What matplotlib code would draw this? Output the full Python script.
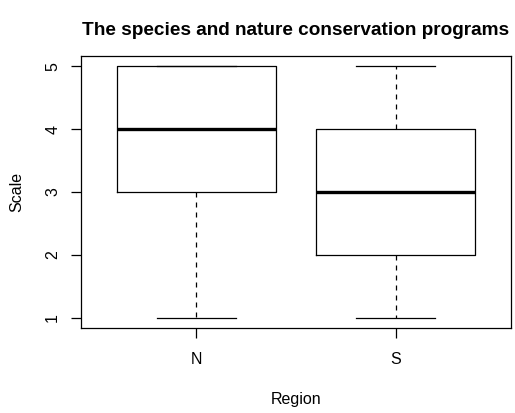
import matplotlib.pyplot as plt

plt.rcParams['font.family'] = ['Liberation Sans', 'DejaVu Sans']

regions = ['N', 'S']
whislo = [1, 1]
q1 = [3, 2]
med = [4, 3]
q3 = [5, 4]
whishi = [5, 5]

stats = []
for i in range(len(regions)):
    stats.append({'label': regions[i], 'whislo': whislo[i], 'q1': q1[i],
                  'med': med[i], 'q3': q3[i], 'whishi': whishi[i], 'fliers': []})

fig = plt.figure(figsize=(5.15, 4.13), dpi=100)
ax = fig.add_axes([81/515, 1 - 328/413, 430/515, 272/413])

lw = 0.9
ax.bxp(stats, positions=[1, 2], widths=0.8, showfliers=False,
       boxprops=dict(color='black', linewidth=lw),
       whiskerprops=dict(color='black', linewidth=lw, linestyle=(0, (4, 4))),
       capprops=dict(color='black', linewidth=lw),
       medianprops=dict(color='black', linewidth=2.4, solid_capstyle='butt'),
       capwidths=0.4)

ax.set_xlim(0.42, 2.58)
ax.set_ylim(0.84, 5.16)
ax.set_yticks([1, 2, 3, 4, 5])
ax.set_yticklabels(['1', '2', '3', '4', '5'], rotation=90, va='center')
ax.set_xticks([1, 2])
ax.set_xticklabels(regions)
ax.tick_params(axis='both', length=7, width=lw, labelsize=11.5, pad=8)
ax.tick_params(axis='x', pad=10)
for s in ax.spines.values():
    s.set_linewidth(lw)

ax.set_xlabel('Region', fontsize=11.5, labelpad=18)
ax.set_ylabel('Scale', fontsize=11.5, labelpad=15)
ax.set_title('The species and nature conservation programs',
             fontsize=13.7, fontweight='bold', pad=15)

fig.savefig('out.png', dpi=100)
